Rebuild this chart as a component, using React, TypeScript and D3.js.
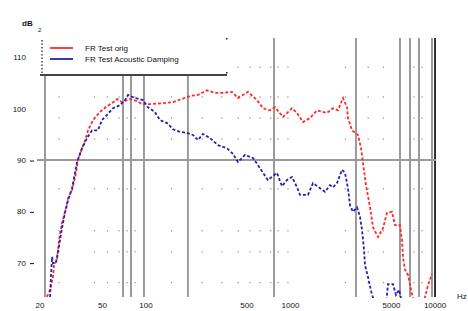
import * as d3 from "d3";

// response curves, [Hz, dB]
const redSeries: [number, number][] = [
  [20.6, 63.3], [21.7, 64.7], [22.7, 67.2], [23.1, 69.5], [24.2, 70.5], [25.0, 74.4],
  [26.2, 77.7], [27.5, 79.9], [28.9, 82.6], [30.8, 84.2], [32.8, 87.5], [33.8, 90.0],
  [36.1, 92.3], [38.4, 94.3], [39.7, 95.8], [43.0, 97.8], [48.0, 99.4], [53.7, 100.5],
  [61.0, 101.5], [63.0, 101.9], [68.2, 101.3], [77.5, 101.9], [86.7, 101.5], [93.8, 100.9],
  [106.6, 100.9], [131, 101.1], [154, 101.3], [177, 101.9], [202, 102.5], [229, 102.7],
  [264, 103.6], [300, 103.1], [336, 103.1], [394, 103.3], [433, 102.1], [508, 103.3],
  [586, 101.7], [645, 100.1], [721, 99.7], [781, 100.3], [887, 98.4], [1024, 100.1],
  [1109, 99.2], [1220, 97.4], [1364, 98.2], [1525, 99.7], [1789, 99.2], [1968, 100.1],
  [2132, 99.7], [2308, 102.1], [2460, 100.3], [2500, 98.2], [2665, 95.8], [2932, 94.9],
  [3076, 92.3], [3176, 89.4], [3330, 85.1], [3550, 80.8], [3724, 76.9], [4032, 75.0],
  [4366, 76.7], [4652, 79.7], [5040, 79.9], [5286, 77.3], [5724, 77.3], [5910, 74.4],
  [6006, 71.1], [6200, 68.6], [6504, 67.6], [6826, 64.7], [7044, 63.1], [7600, 61.0],
  [8400, 62.5], [8946, 65.6], [9532, 67.8],
];

const blueSeries: [number, number][] = [
  [21.7, 63.3], [22.0, 67.6], [22.4, 71.1], [22.7, 69.9], [23.8, 69.9], [24.6, 72.1],
  [25.4, 74.4], [26.2, 76.7], [27.5, 79.7], [28.9, 82.2], [30.8, 84.5], [33.3, 89.6],
  [36.1, 92.3], [39.1, 94.3], [42.3, 95.8], [46.5, 95.8], [49.6, 97.8], [53.7, 98.8],
  [59.1, 100.1], [66.1, 100.7], [71.6, 101.7], [75.1, 102.7], [83.9, 102.1], [95.3, 101.7],
  [103, 100.3], [115, 99.4], [125, 97.8], [140, 97.2], [154, 96.0], [172, 95.5],
  [192, 95.3], [211, 94.9], [229, 93.9], [248, 95.1], [277, 94.3], [315, 92.9],
  [363, 92.3], [400, 91.2], [433, 89.6], [484, 91.0], [550, 90.4], [596, 89.0],
  [645, 87.5], [698, 86.1], [757, 86.9], [806, 87.5], [873, 84.9], [946, 86.1],
  [1024, 86.7], [1109, 84.7], [1164, 83.2], [1321, 83.2], [1431, 85.5], [1600, 84.5],
  [1733, 83.8], [1876, 85.1], [1968, 84.7], [2098, 85.5], [2272, 88.1], [2384, 87.5],
  [2500, 84.5], [2580, 81.2], [2706, 79.9], [2884, 80.8], [3028, 78.9], [3125, 76.4],
  [3226, 72.5], [3278, 69.5], [3438, 67.2], [3664, 63.7], [3906, 61.7], [4580, 61.7],
  [4730, 65.8], [5120, 65.8], [5370, 63.7], [5636, 64.7], [5818, 63.1], [6006, 61.7],
];

const legendLabels = ["FR Test orig", "FR Test Acoustic Damping"];
const yTicks = [110, 100, 90, 80, 70];
const xTicks = [20, 50, 100, 500, 1000, 5000, 10000];
const markerFreqs = [20, 69.3, 78.7, 96.8, 195, 769, 2838, 5724, 6714, 7746, 9532];
const dotFreqs = [25, 44, 54, 65, 74, 84, 150, 245, 335, 435, 525, 615, 730, 820, 960, 2400, 3450, 4400, 7150, 8150];
const dotLevels = [108.1, 102.3, 98.2, 94.1, 84.4, 76.2, 72.1, 66.1];

const W = 468;
const H = 311;
const left = 45;
const right = 435;
const top = 38;
const bottom = 298;

export default function App() {
  const x = d3.scaleLog().domain([20, 10000]).range([left, right]);
  const y = d3.scaleLinear().domain([63.1, 113.8]).range([bottom, top]);
  const line = d3
    .line<[number, number]>()
    .x((d) => x(d[0]))
    .y((d) => y(d[1]));

  const font = "'Liberation Sans', Arial, sans-serif";

  return (
    <svg
      width={W}
      height={H}
      style={{ position: "absolute", left: 0, top: 0, background: "#fff" }}
      fontFamily={font}
    >
      <defs>
        <clipPath id="plot">
          <rect x={left} y={top} width={right - left} height={bottom - top} />
        </clipPath>
      </defs>

      {/* dotted grid */}
      {dotLevels.map((lv) =>
        dotFreqs.map((f) => (
          <rect key={`${lv}-${f}`} x={x(f) - 0.6} y={y(lv) - 0.6} width={1.2} height={1.2} fill="#8a8a8a" />
        ))
      )}

      {/* marker lines */}
      {markerFreqs.map((f) => (
        <line key={f} x1={x(f)} x2={x(f)} y1={top} y2={bottom - 1} stroke="#9a9a9a" strokeWidth={2} />
      ))}
      <line x1={right} x2={right} y1={top} y2={bottom - 1} stroke="#333" strokeWidth={2} />
      <line x1={37} x2={right + 1} y1={y(90)} y2={y(90)} stroke="#9a9a9a" strokeWidth={2} />

      {/* curves */}
      <g clipPath="url(#plot)" fill="none" strokeWidth={1.8} strokeDasharray="3 2">
        <path d={line(redSeries) ?? ""} stroke="#ff2a2a" />
        <path d={line(blueSeries) ?? ""} stroke="#2323b0" />
      </g>

      {/* legend box */}
      <rect x={40} y={top} width={187} height={37} fill="#fff" />
      <line x1={40} x2={227} y1={75} y2={75} stroke="#444" strokeWidth={2} />
      <line x1={42} x2={42} y1={40} y2={73} stroke="#444" strokeWidth={1.5} strokeDasharray="1.5 2" />
      <rect x={226} y={38} width={1.5} height={1.5} fill="#222" />
      <rect x={226} y={72} width={1.5} height={1.5} fill="#222" />
      <line x1={50} x2={73} y1={48} y2={48} stroke="#ff2a2a" strokeWidth={1.8} />
      <line x1={50} x2={73} y1={59} y2={59} stroke="#2323b0" strokeWidth={1.8} />
      {legendLabels.map((t, i) => (
        <text key={t} x={85} y={51 + i * 11} fontSize={8} fill="#111">
          {t}
        </text>
      ))}

      {/* y axis */}
      <text x={22} y={26} fontSize={8} fontWeight="bold" fill="#111">dB</text>
      <text x={38} y={32} fontSize={6} fill="#111">2</text>
      {yTicks.map((v) => (
        <g key={v}>
          <text x={26} y={y(v) + 3} fontSize={8} textAnchor="end" fill="#111">
            {v}
          </text>
          {v < 100 && <line x1={30} x2={34} y1={y(v) + 1} y2={y(v) + 1} stroke="#111" strokeWidth={1} />}
        </g>
      ))}

      {/* x axis */}
      {xTicks.map((v) => (
        <text key={v} x={v === 20 ? 40 : x(v)} y={308} fontSize={8} textAnchor="middle" fill="#111">
          {v}
        </text>
      ))}
      <text x={457} y={299} fontSize={8} fill="#111">Hz</text>
    </svg>
  );
}
